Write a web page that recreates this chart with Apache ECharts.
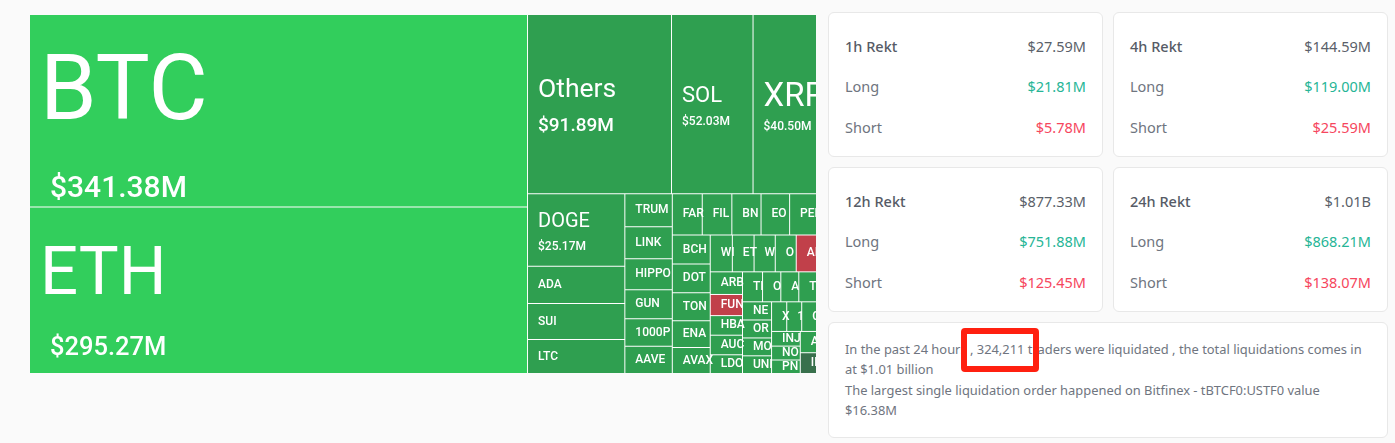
<!DOCTYPE html>
<html>
<head>
<meta charset="utf-8">
<title>Liquidation heatmap</title>
<script src="https://cdn.jsdelivr.net/npm/echarts@6/dist/echarts.min.js"></script>
<style>
html,body{margin:0;padding:0;background:#fafafa;width:1395px;height:443px;overflow:hidden;font-family:"Noto Sans",sans-serif;}
#heatmap{position:absolute;left:30px;top:15px;width:786px;height:358px;}
.card{position:absolute;box-sizing:border-box;width:275px;background:#fff;border:1px solid #e8e8e8;border-radius:6px;height:145px;}
.row{position:absolute;left:16px;right:16px;display:flex;justify-content:space-between;font-size:14.5px;line-height:20px;color:#6f7580;}
.row .val{color:#5a5f69;}
.row.head span:first-child{font-weight:500;color:#565b66;}
.row.long .val{color:#26b596;}
.row.short .val{color:#f6465d;}
#note{position:absolute;box-sizing:border-box;left:828px;top:322px;width:560px;height:116px;background:#fff;border:1px solid #e8e8e8;border-radius:6px;padding:16px 16px;font-size:12.9px;line-height:20.4px;color:#6f7580;white-space:nowrap;}
#mark{position:absolute;box-sizing:border-box;left:961px;top:328px;width:78px;height:44px;border:6px solid #ff2010;border-radius:4px;}
</style>
</head>
<body>
<div id="heatmap"></div>
<div id="cards"></div>
<div id="note"></div>
<div id="mark"></div>
<script>
// coins, biggest first
var coinNames = ['BTC','ETH','Others','SOL','XRP','DOGE','ADA','SUI','LTC',
	'TRUMP','LINK','HIPPO','GUN','1000PEPE','AAVE',
	'FARTCOIN','FIL','BNB','EOS','PEPE',
	'BCH','DOT','TON','ENA','AVAX',
	'WIF','ETC','WLD','OP','AI16Z',
	'ARB','FUN','AUCTION','HBAR','LDO',
	'TIA','ONDO','APT','TAO',
	'NEAR','ORDI','MOVE','UNI',
	'XLM','1000BONK','CRV',
	'INJ','NOT','PNUT',
	'AR','IP'];
var coinValues = [341.38,295.27,91.89,52.03,40.50,25.17,12.90,12.46,11.77,
	5.58,5.41,5.24,4.90,4.65,4.60,
	4.40,4.35,4.29,4.20,3.95,
	3.93,3.87,3.77,3.64,3.50,
	2.90,2.85,2.78,2.75,2.66,
	2.60,2.43,2.25,2.25,2.15,
	2.14,1.95,1.92,1.89,
	1.88,1.86,1.85,1.83,
	1.60,1.58,1.56,
	1.50,1.42,1.38,
	1.23,1.20];
var brightCoins = ['BTC','ETH'];
var redCoins = ['AI16Z','FUN'];
var darkCoins = ['IP'];
// tiles on the right edge: the canvas cuts their text
var edgeCoins = ['XRP','PEPE','AI16Z','TAO','CRV','AR','IP'];

// [name size, value size, top spacer, name line height, value line height, value indent]
var bigLabels = {
	BTC:[91,30,11,140,46,10],
	ETH:[67,25.5,24,92,50,10],
	Others:[26.5,19,57,36,36,0],
	SOL:[22,12,68,26,26,0],
	XRP:[33,12,70,26,32,0],
	DOGE:[20,12,16,24,25,0]
};

var rektTitles = ['1h Rekt','4h Rekt','12h Rekt','24h Rekt'];
var rektTotal = ['$27.59M','$144.59M','$877.33M','$1.01B'];
var rektLong = ['$21.81M','$119.00M','$751.88M','$868.21M'];
var rektShort = ['$5.78M','$25.59M','$125.45M','$138.07M'];
var noteLines = ['In the past 24 hours , 324,211 traders were liquidated , the total liquidations comes in',
	'at $1.01 billion',
	'The largest single liquidation order happened on Bitfinex - tBTCF0:USTF0 value',
	'$16.38M'];

function coinColor(name){
	if(brightCoins.indexOf(name) > -1) return '#32ce5c';
	if(redCoins.indexOf(name) > -1) return '#c1404a';
	if(darkCoins.indexOf(name) > -1) return '#38704c';
	return '#2f9f50';
}

function buildTile(name,i){
	var tile = {name:name,value:coinValues[i],itemStyle:{color:coinColor(name)}};
	var rightPad = edgeCoins.indexOf(name) > -1 ? -60 : -5;
	var big = bigLabels[name];
	if(big){
		tile.label = {
			position:'insideTopLeft',
			padding:[0,rightPad,-30,10],
			formatter:'{s| }\n{n|'+name+'}\n{v|$'+coinValues[i].toFixed(2)+'M}',
			rich:{
				s:{fontSize:1,lineHeight:big[2],height:big[2]},
				n:{fontSize:big[0],lineHeight:big[3],color:'#fff',fontFamily:'Roboto',fontWeight:400},
				v:{fontSize:big[1],lineHeight:big[4],color:'#fff',fontFamily:'Roboto',fontWeight:500,padding:[0,0,0,big[5]]}
			}
		};
	}else{
		tile.label = {padding:[0,rightPad,0,10]};
	}
	return tile;
}

var chart = echarts.init(document.getElementById('heatmap'));
chart.setOption({
	animation:false,
	tooltip:{show:false},
	series:[{
		type:'treemap',
		left:0,top:0,right:0,bottom:0,
		roam:false,
		nodeClick:false,
		breadcrumb:{show:false},
		label:{
			show:true,
			position:'insideLeft',
			distance:0,
			overflow:'truncate',
			ellipsis:'',
			fontFamily:'Roboto',
			fontSize:12,
			fontWeight:500,
			color:'#fff',
			formatter:'{b}'
		},
		levels:[
			{itemStyle:{borderWidth:0,gapWidth:1,borderColor:'#fff'}},
			{itemStyle:{borderWidth:0}}
		],
		data:coinNames.map(buildTile)
	}]
});

// stat cards
var cardLeft = [828,1113,828,1113];
var cardTop = [12,12,167,167];
var html = '';
for(var i = 0;i < rektTitles.length;i++){
	html += '<div class="card" style="left:'+cardLeft[i]+'px;top:'+cardTop[i]+'px">'
		+ '<div class="row head" style="top:23px"><span>'+rektTitles[i]+'</span><span class="val">'+rektTotal[i]+'</span></div>'
		+ '<div class="row long" style="top:63px"><span>Long</span><span class="val">'+rektLong[i]+'</span></div>'
		+ '<div class="row short" style="top:104px"><span>Short</span><span class="val">'+rektShort[i]+'</span></div>'
		+ '</div>';
}
document.getElementById('cards').innerHTML = html;
document.getElementById('note').innerHTML = noteLines.join('<br>');
</script>
</body>
</html>
